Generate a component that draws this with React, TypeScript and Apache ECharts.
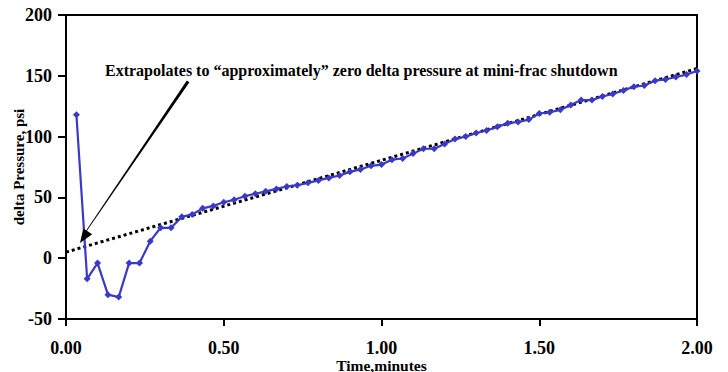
import React, { useEffect, useRef } from "react";
import * as echarts from "echarts";

const timeMinutes = [
  0.033, 0.067, 0.1, 0.133, 0.167, 0.2, 0.233, 0.267, 0.3, 0.333,
  0.367, 0.4, 0.433, 0.467, 0.5, 0.533, 0.567, 0.6, 0.633, 0.667,
  0.7, 0.733, 0.767, 0.8, 0.833, 0.867, 0.9, 0.933, 0.967, 1.0,
  1.033, 1.067, 1.1, 1.133, 1.167, 1.2, 1.233, 1.267, 1.3, 1.333,
  1.367, 1.4, 1.433, 1.467, 1.5, 1.533, 1.567, 1.6, 1.633, 1.667,
  1.7, 1.733, 1.767, 1.8, 1.833, 1.867, 1.9, 1.933, 1.967, 2.0,
];
const deltaPressure = [
  118, -17, -4, -30, -32, -4, -4, 14, 25, 25,
  34, 36, 41, 43, 46, 48, 51, 53, 55, 57,
  59, 60, 62, 64, 66, 68, 71, 73, 76, 77,
  81, 82, 86, 90, 90, 94, 98, 100, 103, 105,
  108, 111, 112, 114, 119, 120, 122, 126, 130, 130,
  133, 135, 138, 141, 142, 146, 147, 149, 151, 154,
];
const trendX = [0, 2.0];
const trendY = [5, 156];
const annotation = "Extrapolates to \u201Capproximately\u201D zero delta pressure at mini-frac shutdown";

const FONT = "'Liberation Serif', 'Times New Roman', serif";

export default function App() {
  const ref = useRef<HTMLDivElement>(null);
  useEffect(() => {
    if (!ref.current) return;
    const chart = echarts.init(ref.current, null, { renderer: "svg" });
    chart.setOption({
      animation: false,
      backgroundColor: "#fff",
      grid: {
        left: 66,
        right: 31,
        top: 15,
        bottom: 53,
        outerBoundsMode: "none",
        containLabel: false,
        show: true,
        borderColor: "#000",
        borderWidth: 2,
      },
      xAxis: {
        type: "value",
        min: 0,
        max: 2,
        interval: 0.5,
        name: "Time,minutes",
        nameLocation: "middle",
        nameGap: 38,
        nameMoveOverlap: false,
        nameTextStyle: { fontFamily: FONT, fontWeight: "bold", fontSize: 15.5, color: "#000" },
        axisLine: { show: true, onZero: false, lineStyle: { color: "#000", width: 2 } },
        axisTick: { show: true, length: 7, lineStyle: { color: "#000", width: 2 } },
        splitLine: { show: false },
        axisLabel: {
          margin: 20,
          fontFamily: FONT,
          fontWeight: "bold",
          fontSize: 18,
          color: "#000",
          formatter: (v: number) => v.toFixed(2),
        },
      },
      yAxis: {
        type: "value",
        min: -50,
        max: 200,
        interval: 50,
        name: "delta Pressure, psi",
        nameLocation: "middle",
        nameGap: 40,
        nameMoveOverlap: false,
        nameRotate: 90,
        nameTextStyle: { fontFamily: FONT, fontWeight: "bold", fontSize: 15, color: "#000" },
        axisLine: { show: true, onZero: false, lineStyle: { color: "#000", width: 2 } },
        axisTick: { show: true, length: 8, lineStyle: { color: "#000", width: 2 } },
        splitLine: { show: false },
        axisLabel: {
          margin: 14,
          fontFamily: FONT,
          fontWeight: "bold",
          fontSize: 18,
          color: "#000",
        },
      },
      series: [
        {
          type: "line",
          data: trendX.map((x, i) => [x, trendY[i]]),
          showSymbol: false,
          symbol: "none",
          lineStyle: { color: "#000", width: 3, type: [3, 3] },
          z: 3,
        },
        {
          type: "line",
          data: timeMinutes.map((x, i) => [x, deltaPressure[i]]),
          symbol: "diamond",
          symbolSize: 7,
          itemStyle: { color: "#3a3ac8" },
          lineStyle: { color: "#3a3ac8", width: 2.2 },
          z: 4,
        },
      ],
      graphic: [
        {
          type: "text",
          left: 105,
          top: 62,
          style: {
            text: annotation,
            fontFamily: FONT,
            fontWeight: "bold",
            fontSize: 16,
            fill: "#000",
          },
          z: 10,
        },
        {
          type: "polygon",
          shape: {
            points: [
              [186.8, 80.5],
              [189.4, 82.2],
              [84.4, 234.5],
              [83.8, 234.1],
            ],
          },
          style: { fill: "#000" },
          z: 10,
        },
        {
          type: "polygon",
          shape: {
            points: [
              [80, 243],
              [83.3, 228.5],
              [92.2, 234.3],
            ],
          },
          style: { fill: "#000" },
          z: 10,
        },
      ],
    });
    return () => chart.dispose();
  }, []);
  return (
    <div
      ref={ref}
      style={{ position: "fixed", left: 0, top: 0, width: 728, height: 372 }}
    />
  );
}
